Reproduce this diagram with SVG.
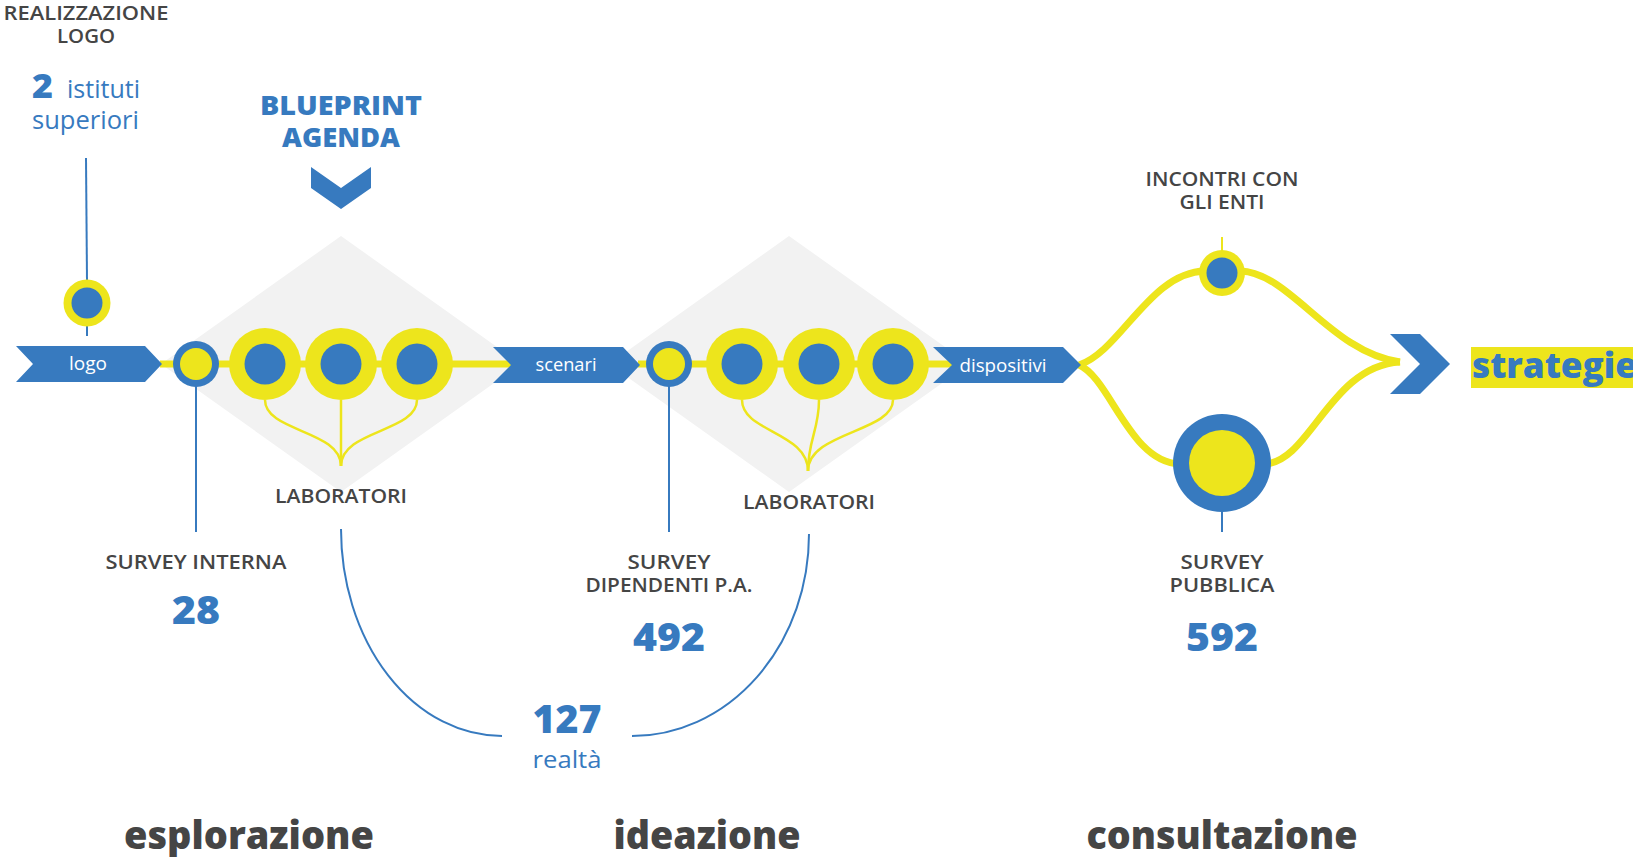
<svg xmlns="http://www.w3.org/2000/svg" width="1633" height="857" viewBox="0 0 1633 857">
<style>
text{font-family:"Open Sans","Liberation Sans",sans-serif}
.lbl{font-size:19px;fill:#454545;font-weight:600;text-anchor:middle}
.num{font-size:39px;fill:#377ABF;font-weight:800;text-anchor:middle}
.tag{font-size:18px;fill:#fff;text-anchor:middle}
.phase{font-size:38px;fill:#454545;font-weight:800;text-anchor:middle}
.blue{fill:#377ABF}
.yel{fill:#EDE51C}
.dia{fill:#F2F2F2}
.main{stroke:#EDE51C;stroke-width:7;fill:none}
.thin{stroke:#EDE51C;stroke-width:2.5;fill:none}
.bl{stroke:#377ABF;stroke-width:2;fill:none}
</style>
<g id="backgrounds">
<polygon class="dia" points="341,236 521,364 341,492 161,364"/>
<polygon class="dia" points="789,236 969,364 789,492 609,364"/>
</g>
<g id="connectors">
<line class="main" x1="160" y1="364" x2="513" y2="364"/>
<line class="main" x1="638" y1="364" x2="954" y2="364"/>
<path class="main" d="M1079,365 C1120,352 1150,272 1205,271"/>
<path class="main" d="M1240,271 C1290,272 1330,352 1400,362"/>
<path class="main" d="M1079,365 C1110,378 1130,463 1180,464"/>
<path class="main" d="M1265,464 C1310,462 1330,366 1400,362"/>
<path class="thin" d="M265,400 C265,432 341,430 341,466"/>
<path class="thin" d="M341,400 L341,466"/>
<path class="thin" d="M417,400 C417,432 341,430 341,466"/>
<path class="thin" d="M742,400 C742,432 808,432 808,471"/>
<path class="thin" d="M819,400 C819,430 808,440 808,471"/>
<path class="thin" d="M893,400 C893,432 808,432 808,471"/>
<line class="bl" x1="86" y1="158" x2="87" y2="280"/>
<line class="bl" x1="87" y1="326" x2="87" y2="336"/>
<line class="bl" x1="196" y1="386" x2="196" y2="532"/>
<line class="bl" x1="669" y1="386" x2="669" y2="532"/>
<line class="bl" x1="1222" y1="511" x2="1222" y2="532"/>
<line x1="1222" y1="237" x2="1222" y2="251" stroke="#EDE51C" stroke-width="2"/>
<path class="bl" d="M341,529 A161,207 0 0 0 502,736"/>
<path class="bl" d="M632,736 A177,202 0 0 0 809,534"/>
</g>
<g id="logo-top">
<text class="lbl" x="86" y="20" textLength="165" lengthAdjust="spacingAndGlyphs">REALIZZAZIONE</text>
<text class="lbl" x="86" y="43" textLength="58" lengthAdjust="spacingAndGlyphs">LOGO</text>
<text x="32" y="98" font-size="34" font-weight="800" fill="#377ABF" textLength="21" lengthAdjust="spacingAndGlyphs">2</text>
<text x="67" y="98" font-size="26" fill="#377ABF" textLength="73" lengthAdjust="spacingAndGlyphs">istituti</text>
<text x="32" y="129" font-size="26" fill="#377ABF" textLength="107" lengthAdjust="spacingAndGlyphs">superiori</text>
<circle class="yel" cx="87" cy="303" r="23.5"/>
<circle class="blue" cx="87" cy="303" r="15.5"/>
</g>
<g id="blueprint">
<text x="341" y="115" font-size="27" font-weight="800" fill="#377ABF" text-anchor="middle" textLength="162" lengthAdjust="spacingAndGlyphs">BLUEPRINT</text>
<text x="341" y="147" font-size="27" font-weight="800" fill="#377ABF" text-anchor="middle" textLength="118" lengthAdjust="spacingAndGlyphs">AGENDA</text>
<polygon class="blue" points="311,167 341,188 371,167 371,188 341,209 311,188"/>
</g>
<g id="arrow-logo">
<polygon class="blue" points="16,346 145,346 162,364 145,382 16,382 33,364"/>
<text class="tag" x="88" y="370" textLength="38" lengthAdjust="spacingAndGlyphs">logo</text>
</g>
<g id="survey-interna">
<circle class="blue" cx="196" cy="364" r="23"/>
<circle class="yel" cx="196" cy="364" r="16"/>
<text class="lbl" x="196" y="569" textLength="181" lengthAdjust="spacingAndGlyphs">SURVEY INTERNA</text>
<text class="num" x="196" y="624" textLength="48" lengthAdjust="spacingAndGlyphs">28</text>
</g>
<g id="laboratori-1">
<circle class="yel" cx="265" cy="364" r="36"/>
<circle class="blue" cx="265" cy="364" r="20.5"/>
<circle class="yel" cx="341" cy="364" r="36"/>
<circle class="blue" cx="341" cy="364" r="20.5"/>
<circle class="yel" cx="417" cy="364" r="36"/>
<circle class="blue" cx="417" cy="364" r="20.5"/>
<text class="lbl" x="341" y="503" textLength="132" lengthAdjust="spacingAndGlyphs">LABORATORI</text>
</g>
<g id="arrow-scenari">
<polygon class="blue" points="493,347 623,347 640,365 623,383 493,383 511,365"/>
<text class="tag" x="566" y="371" textLength="61" lengthAdjust="spacingAndGlyphs">scenari</text>
</g>
<g id="survey-dipendenti">
<circle class="blue" cx="669" cy="364" r="23"/>
<circle class="yel" cx="669" cy="364" r="16"/>
<text class="lbl" x="669" y="569" textLength="83" lengthAdjust="spacingAndGlyphs">SURVEY</text>
<text class="lbl" x="669" y="592" textLength="167" lengthAdjust="spacingAndGlyphs">DIPENDENTI P.A.</text>
<text class="num" x="669" y="651" textLength="72" lengthAdjust="spacingAndGlyphs">492</text>
</g>
<g id="laboratori-2">
<circle class="yel" cx="742" cy="364" r="36"/>
<circle class="blue" cx="742" cy="364" r="20.5"/>
<circle class="yel" cx="819" cy="364" r="36"/>
<circle class="blue" cx="819" cy="364" r="20.5"/>
<circle class="yel" cx="893" cy="364" r="36"/>
<circle class="blue" cx="893" cy="364" r="20.5"/>
<text class="lbl" x="809" y="509" textLength="132" lengthAdjust="spacingAndGlyphs">LABORATORI</text>
</g>
<g id="realta">
<text class="num" x="567" y="733" font-size="38" textLength="69" lengthAdjust="spacingAndGlyphs">127</text>
<text x="567" y="768" font-size="24" fill="#377ABF" text-anchor="middle" textLength="69" lengthAdjust="spacingAndGlyphs">realtà</text>
</g>
<g id="arrow-dispositivi">
<polygon class="blue" points="933,347 1063,347 1081,365 1063,383 933,383 952,365"/>
<text class="tag" x="1003" y="372" textLength="87" lengthAdjust="spacingAndGlyphs">dispositivi</text>
</g>
<g id="incontri-enti">
<text class="lbl" x="1222" y="186" textLength="153" lengthAdjust="spacingAndGlyphs">INCONTRI CON</text>
<text class="lbl" x="1222" y="209" textLength="85" lengthAdjust="spacingAndGlyphs">GLI ENTI</text>
<circle class="yel" cx="1222" cy="273" r="23"/>
<circle class="blue" cx="1222" cy="273" r="15.5"/>
</g>
<g id="survey-pubblica">
<circle class="blue" cx="1222" cy="463" r="49"/>
<circle class="yel" cx="1222" cy="463" r="33"/>
<text class="lbl" x="1222" y="569" textLength="83" lengthAdjust="spacingAndGlyphs">SURVEY</text>
<text class="lbl" x="1222" y="592" textLength="105" lengthAdjust="spacingAndGlyphs">PUBBLICA</text>
<text class="num" x="1222" y="651" textLength="72" lengthAdjust="spacingAndGlyphs">592</text>
</g>
<g id="strategie">
<polygon class="blue" points="1390,334 1420,334 1450,364 1420,394 1390,394 1420,364"/>
<rect class="yel" x="1471" y="347" width="162" height="41"/>
<text x="1472" y="378" font-size="36" font-weight="800" fill="#377ABF" textLength="165" lengthAdjust="spacingAndGlyphs">strategie</text>
</g>
<g id="phases">
<text class="phase" x="249" y="849" textLength="250" lengthAdjust="spacingAndGlyphs">esplorazione</text>
<text class="phase" x="707" y="849" textLength="187" lengthAdjust="spacingAndGlyphs">ideazione</text>
<text class="phase" x="1222" y="849" textLength="271" lengthAdjust="spacingAndGlyphs">consultazione</text>
</g>
</svg>
